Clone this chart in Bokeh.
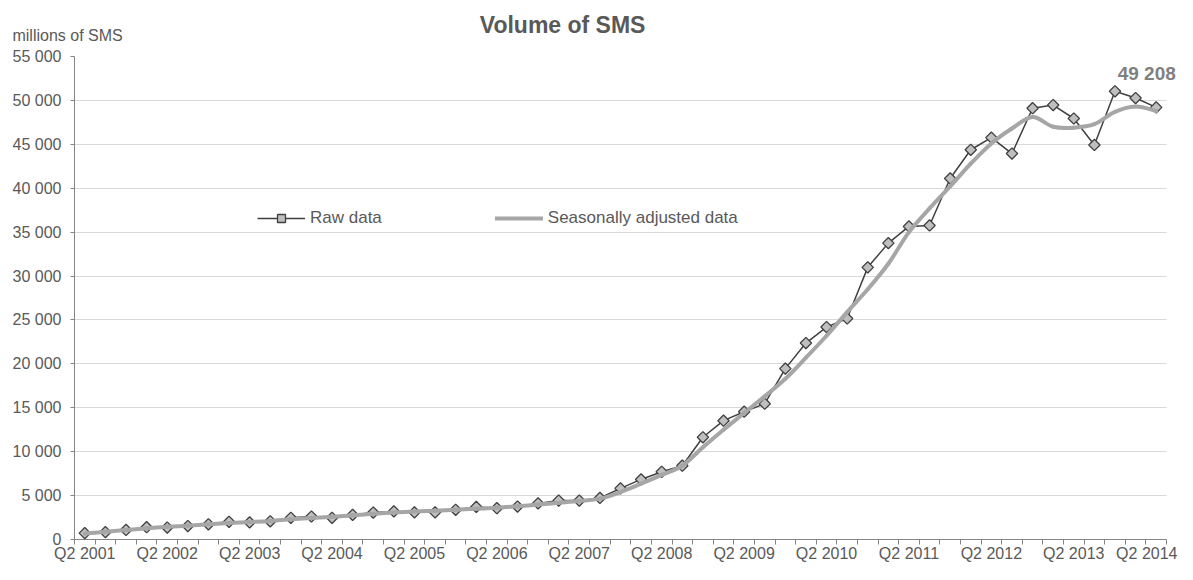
import numpy as np
from bokeh.plotting import figure
from bokeh.models import FixedTicker, Label, Legend, LegendItem, Range1d
from bokeh.embed import file_html
from bokeh.resources import INLINE

FONT = "Liberation Sans"

quarters = [
    "Q2 2001", "Q3 2001", "Q4 2001", "Q1 2002", "Q2 2002", "Q3 2002", "Q4 2002",
    "Q1 2003", "Q2 2003", "Q3 2003", "Q4 2003", "Q1 2004", "Q2 2004", "Q3 2004",
    "Q4 2004", "Q1 2005", "Q2 2005", "Q3 2005", "Q4 2005", "Q1 2006", "Q2 2006",
    "Q3 2006", "Q4 2006", "Q1 2007", "Q2 2007", "Q3 2007", "Q4 2007", "Q1 2008",
    "Q2 2008", "Q3 2008", "Q4 2008", "Q1 2009", "Q2 2009", "Q3 2009", "Q4 2009",
    "Q1 2010", "Q2 2010", "Q3 2010", "Q4 2010", "Q1 2011", "Q2 2011", "Q3 2011",
    "Q4 2011", "Q1 2012", "Q2 2012", "Q3 2012", "Q4 2012", "Q1 2013", "Q2 2013",
    "Q3 2013", "Q4 2013", "Q1 2014", "Q2 2014",
]

raw_data = [
    730, 840, 1090, 1400, 1360, 1530, 1730, 2020, 1950, 2070, 2470, 2620, 2470,
    2800, 3070, 3200, 3090, 3090, 3380, 3710, 3560, 3750, 4110, 4440, 4440, 4730,
    5820, 6840, 7710, 8400, 11640, 13530, 14550, 15460, 19460, 22370, 24190, 25170,
    30990, 33750, 35650, 35760, 41110, 44380, 45760, 43950, 49110, 49470, 47940,
    44930, 51040, 50270, 49208,
]

seasonally_adjusted = [
    680, 880, 1080, 1280, 1440, 1580, 1730, 1870, 1990, 2120, 2300, 2450, 2580,
    2750, 2930, 3080, 3200, 3280, 3380, 3500, 3620, 3780, 3980, 4180, 4380, 4650,
    5400, 6350, 7350, 8400, 10500, 12500, 14400, 16300, 18300, 20700, 23200, 25900,
    28500, 31400, 35000, 37700, 40200, 42800, 45100, 46800, 48100, 47000, 46900,
    47300, 48700, 49300, 48800,
]

y_ticks = [0, 5000, 10000, 15000, 20000, 25000, 30000, 35000, 40000, 45000, 50000, 55000]
x_tick_labels = ["Q2 2001", "Q2 2002", "Q2 2003", "Q2 2004", "Q2 2005", "Q2 2006", "Q2 2007",
                 "Q2 2008", "Q2 2009", "Q2 2010", "Q2 2011", "Q2 2012", "Q2 2013", "Q2 2014"]

n = len(quarters)
x = np.arange(n, dtype=float)
label_pos = [quarters.index(t) for t in x_tick_labels]
boundaries = [i - 0.5 for i in range(n + 1)]

p = figure(width=1177, height=564, output_backend="svg", toolbar_location=None,
           x_range=Range1d(-0.5, n - 0.5 + 11 / 20.6), y_range=Range1d(0, 55000),
           min_border_left=74, min_border_right=0, min_border_top=56, min_border_bottom=0)
p.outline_line_color = None
p.background_fill_color = "white"
p.border_fill_color = "white"

# axes
p.xaxis.ticker = FixedTicker(ticks=label_pos, minor_ticks=boundaries)
p.xaxis.major_label_overrides = {pos: lab for pos, lab in zip(label_pos, x_tick_labels)}
p.xaxis.bounds = (-0.5, n - 0.5)
p.xaxis.major_tick_out = 0
p.xaxis.major_tick_in = 0
p.xaxis.minor_tick_out = 5
p.xaxis.minor_tick_in = 0
p.xaxis.minor_tick_line_color = "#868686"
p.xaxis.major_label_standoff = 0
p.xaxis.major_label_text_line_height = 1.0
p.xaxis.axis_line_color = "#868686"

p.yaxis.ticker = FixedTicker(ticks=y_ticks)
p.yaxis.major_label_overrides = {t: f"{t:,}".replace(",", " ") for t in y_ticks}
p.yaxis.major_tick_out = 4
p.yaxis.major_tick_in = 0
p.yaxis.minor_tick_line_color = None
p.yaxis.major_tick_line_color = "#868686"
p.yaxis.axis_line_color = "#868686"
p.yaxis.major_label_standoff = 9

for ax in (p.xaxis, p.yaxis):
    ax.major_label_text_font = FONT
    ax.major_label_text_font_size = "16px"
    ax.major_label_text_color = "#595959"

p.xgrid.visible = False
p.ygrid.ticker = FixedTicker(ticks=y_ticks)
p.ygrid.grid_line_color = "#d9d9d9"
p.ygrid.grid_line_width = 1
for g in p.ygrid:
    if "cross_bounds" in g.properties():
        g.cross_bounds = (-0.5, n - 0.5)

# raw series
raw_line = p.line(x, raw_data, line_color="#404040", line_width=1.5)
raw_pts = p.scatter(x, raw_data, marker="square", angle=np.pi / 4, size=8,
                    fill_color="#bfbfbf", line_color="#404040", line_width=1.3)

# seasonally adjusted series: smoothed line (Bezier segments between the data points,
# control points derived from neighbouring values, as a spreadsheet "smoothed line")
sa = np.array(seasonally_adjusted, dtype=float)
prev_x = np.concatenate([[x[0]], x[:-1]])
prev_y = np.concatenate([[sa[0]], sa[:-1]])
next_x = np.concatenate([x[1:], [x[-1]]])
next_y = np.concatenate([sa[1:], [sa[-1]]])
x0, y0 = x[:-1], sa[:-1]
x1, y1 = x[1:], sa[1:]
cx0 = x0 + (x1 - prev_x[:-1]) / 6
cy0 = y0 + (y1 - prev_y[:-1]) / 6
cx1 = x1 - (next_x[1:] - x0) / 6
cy1 = y1 - (next_y[1:] - y0) / 6
sa_line = p.bezier(x0=x0, y0=y0, x1=x1, y1=y1, cx0=cx0, cy0=cy0, cx1=cx1, cy1=cy1,
                   line_color="#a6a6a6", line_width=4, line_cap="round")

legend = Legend(items=[LegendItem(label="Raw data", renderers=[raw_line, raw_pts]),
                       LegendItem(label="Seasonally adjusted data", renderers=[sa_line])],
                orientation="horizontal", location=(183, 311), glyph_width=48,
                glyph_height=20, label_height=20, label_standoff=5, spacing=113,
                padding=0, margin=0, border_line_color=None, background_fill_alpha=0,
                label_text_font=FONT, label_text_font_size="17px",
                label_text_color="#595959")
p.add_layout(legend)

# texts (placed in the side panel above, so they are not clipped to the frame)
p.add_layout(Label(x=23.19, y=58636, text="Volume of SMS", text_align="center",
                   text_baseline="middle", text_font=FONT, text_font_size="23px",
                   text_font_style="bold", text_color="#595959"), "above")
p.add_layout(Label(x=-3.51, y=57386, text="millions of SMS", text_align="left",
                   text_baseline="middle", text_font=FONT, text_font_size="16px",
                   text_color="#595959"), "above")
p.add_layout(Label(x=52.95, y=53068,
                   text=f"{raw_data[-1]:,}".replace(",", " "), text_align="right",
                   text_baseline="middle", text_font=FONT, text_font_size="19px",
                   text_font_style="bold", text_color="#808080"))

open("out.html", "w").write(file_html(p, INLINE))
